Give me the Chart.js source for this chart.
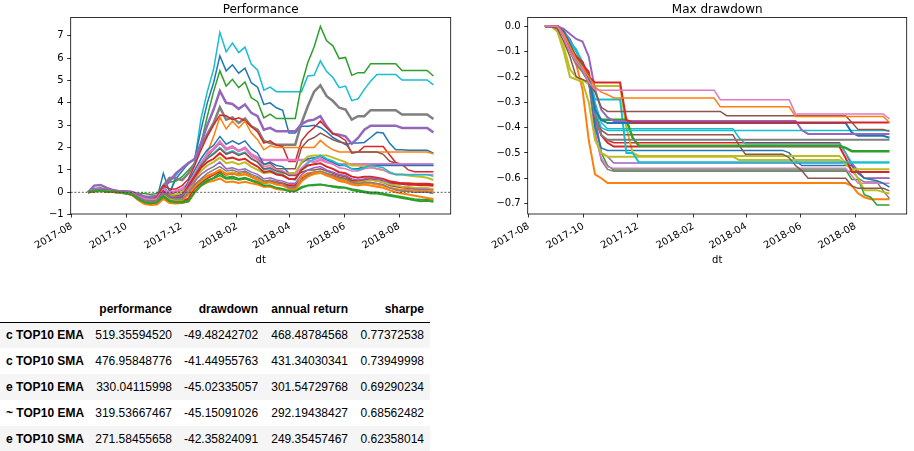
<!DOCTYPE html>
<html>
<head>
<meta charset="utf-8">
<script src="https://cdn.jsdelivr.net/npm/chart.js@4/dist/chart.umd.min.js"></script>
<style>
  body { margin: 0; background: #fff; width: 914px; height: 451px; overflow: hidden; position: relative; }
  .box { position: absolute; top: 0; width: 457px; height: 270px; }
  #perfBox { left: 0; }
  #ddBox { left: 457px; }
  #stats { position: absolute; left: 0; top: 296px; width: 430px; border-collapse: collapse; table-layout: fixed;
           font-family: "Liberation Sans", Arial, sans-serif; font-size: 12px; color: #000; }
  #stats th, #stats td { padding: 0 6px; height: 26px; text-align: right; white-space: nowrap; box-sizing: border-box; }
  #stats thead th { border-bottom: 1px solid #000; font-weight: bold; }
  #stats tbody th { text-align: left; font-weight: bold; }
  #stats tbody tr:nth-child(odd) { background: #f5f5f5; }
</style>
</head>
<body>
<div class="box" id="perfBox"><canvas id="perf" width="457" height="270"></canvas></div>
<div class="box" id="ddBox"><canvas id="dd" width="457" height="270"></canvas></div>
<table id="stats">
  <colgroup><col style="width:88px"><col style="width:90px"><col style="width:86px"><col style="width:90px"><col style="width:76px"></colgroup>
  <thead></thead>
  <tbody></tbody>
</table>
<script>
// weekly sample dates (dt)
const weeks = ['2017-08-19','2017-08-26','2017-09-02','2017-09-09','2017-09-16','2017-09-23','2017-09-30',
  '2017-10-07','2017-10-14','2017-10-21','2017-10-28','2017-11-04','2017-11-11','2017-11-18','2017-11-25',
  '2017-12-02','2017-12-09','2017-12-16','2017-12-23','2017-12-30','2018-01-06','2018-01-13','2018-01-20',
  '2018-01-27','2018-02-03','2018-02-10','2018-02-17','2018-02-24','2018-03-03','2018-03-10','2018-03-17',
  '2018-03-24','2018-03-31','2018-04-07','2018-04-14','2018-04-21','2018-04-28','2018-05-05','2018-05-12',
  '2018-05-19','2018-05-26','2018-06-02','2018-06-09','2018-06-16','2018-06-23','2018-06-30','2018-07-07',
  '2018-07-14','2018-07-21','2018-07-28','2018-08-04','2018-08-11','2018-08-18','2018-08-25','2018-09-01',
  '2018-09-08'];

const xTickLabels = ['2017-08', '2017-10', '2017-12', '2018-02', '2018-04', '2018-06', '2018-08'];
const perfYLabels = ['\u22121', '0', '1', '2', '3', '4', '5', '6', '7'];
const ddYLabels = ['\u22120.7', '\u22120.6', '\u22120.5', '\u22120.4', '\u22120.3', '\u22120.2', '\u22120.1', '0.0'];

// ---- performance series ----
const perfGreen2 = [
  0, .05, .08, .04, .02, 0, -.05, -.1,
  -.3, -.45, -.5, -.45, -.2, -.4, -.45, -.45,
  -.4, 0, .3, .5, .65, .85, .65, .7,
  .6, .65, .55, .45, .3, .3, .2, .15,
  .05, .05, .2, .3, .32, .35, .3, .25,
  .2, .2, .1, .05, 0, -.05, -.05, -.1,
  -.15, -.2, -.25, -.3, -.35, -.4, -.38, -.42];
const perfOrange2 = [
  0, .04, .06, .03, .01, -.02, -.05, -.12,
  -.35, -.52, -.57, -.55, -.3, -.48, -.5, -.48,
  -.42, .05, .3, .45, .52, .62, .45, .48,
  .42, .47, .4, .35, .25, .25, .15, .12,
  .1, .08, .5, .7, .85, .9, .75, .65,
  .5, .45, .35, .3, .35, .3, .25, .2,
  .1, 0, -.05, -.1, -.15, -.2, -.25, -.3];
const perfGreen3 = [
  0, .05, .07, .03, .01, -.01, -.04, -.1,
  -.3, -.45, -.5, -.45, -.15, -.38, -.42, -.42,
  -.35, .05, .35, .55, .62, .75, .6, .62,
  .55, .6, .5, .4, .25, .3, .2, .15,
  .1, .08, .25, .3, .35, .35, .3, .28,
  .25, .22, .15, .1, .05, 0, 0, -.05,
  -.1, -.15, -.2, -.25, -.3, -.32, -.32, -.35];
const perfGray2 = [
  0, .08, .1, .06, .03, 0, -.03, -.08,
  -.25, -.38, -.42, -.38, -.05, -.25, -.3, -.3,
  0, .35, .6, .85, 1.0, 1.15, .95, 1.0,
  .9, .95, .8, .7, .5, .55, .45, .4,
  .2, .2, .55, .8, .9, .95, .85, .75,
  .65, .6, .45, .4, .45, .45, .4, .35,
  .2, .1, .05, .05, 0, 0, 0, -.05];
const perfOrange3 = [
  0, .05, .07, .04, .01, -.01, -.04, -.1,
  -.3, -.45, -.5, -.45, -.2, -.4, -.4, -.35,
  -.1, .3, .55, .75, .85, 1.0, .8, .85,
  .75, .8, .7, .55, .4, .45, .35, .3,
  .2, .15, .7, .85, .9, .92, .8, .7,
  .55, .5, .4, .35, .4, .4, .35, .3,
  .2, .15, .1, .1, .08, .05, .05, .02];
const perfOlive2 = [
  0, .06, .08, .05, .02, 0, -.04, -.1,
  -.28, -.42, -.46, -.42, -.1, -.3, -.35, -.35,
  -.1, .25, .5, .7, .85, 1.0, .85, .9,
  .8, .85, .7, .6, .45, .45, .35, .3,
  .15, .15, .5, .7, .8, .85, .75, .7,
  .6, .55, .45, .45, .5, .55, .5, .45,
  .35, .3, .25, .25, .22, .2, .2, .15];
const perfPurple2 = [
  0, .12, .15, .08, .04, .02, 0, -.05,
  -.2, -.35, -.4, -.35, 0, -.2, -.2, -.15,
  .2, .5, .8, 1.0, 1.15, 1.35, 1.05, 1.1,
  1.0, 1.05, .9, .8, .6, .65, .55, .5,
  .4, .4, .8, 1.0, 1.1, 1.15, 1.0, .9,
  .8, .75, .6, .55, .6, .65, .6, .55,
  .4, .3, .25, .2, .15, .12, .12, .1];
const perfRed2 = [
  0, .06, .1, .05, .02, 0, -.03, -.1,
  -.3, -.45, -.5, -.45, -.15, -.35, -.4, -.4,
  -.3, .2, .45, .65, .8, .95, .8, .85,
  .8, .85, .7, .6, .45, .5, .45, .4,
  .3, .3, .6, .75, .85, .9, .8, .75,
  .65, .6, .5, .5, .55, .6, .6, .55,
  .45, .4, .38, .35, .35, .33, .33, .3];
const perfRed3 = [
  0, .08, .1, .06, .03, 0, -.03, -.08,
  -.25, -.38, -.42, -.38, .05, -.2, -.2, -.15,
  .3, .7, 1.1, 1.35, 1.5, 1.75, 1.5, 1.55,
  1.45, 1.5, 1.3, 1.15, .9, .95, .8, .75,
  .6, .6, 1.0, 1.2, 1.25, 1.3, 1.15, 1.05,
  .9, .85, .7, .65, .7, .7, .65, .6,
  .5, .45, .4, .4, .38, .38, .38, .35];
const perfBrown2 = [
  0, .07, .09, .05, .02, 0, -.03, -.08,
  -.25, -.38, -.42, -.38, 0, -.22, -.25, -.2,
  .25, .75, 1.2, 1.5, 1.7, 1.95, 1.7, 1.8,
  1.65, 1.75, 1.5, 1.35, 1.05, 1.1, .95, .9,
  .75, .75, .9, 1.0, 1.0, 1.05, .95, .85,
  .75, .7, .55, .5, .55, .55, .5, .45,
  .3, .25, .2, .18, .15, .15, .15, .12];
const perfCyan2 = [
  0, .1, .12, .06, .03, 0, -.03, -.08,
  -.25, -.4, -.45, -.4, -.05, -.3, -.3, -.25,
  .3, .7, 1.2, 1.55, 1.75, 2.0, 1.75, 1.85,
  1.7, 1.8, 1.5, 1.35, 1.0, 1.05, .85, .8,
  .6, .55, 1.0, 1.3, 1.5, 1.65, 1.5, 1.4,
  1.25, 1.2, 1.05, 1.0, 1.1, 1.2, 1.15, 1.1,
  .9, .8, .8, .78, .78, .78, .78, .72];
const perfPink2 = [
  0, .1, .12, .06, .03, 0, -.03, -.08,
  -.25, -.38, -.42, -.38, -.05, -.25, -.25, -.2,
  .4, .85, 1.3, 1.7, 1.9, 2.3, 1.9, 2.0,
  1.85, 1.95, 1.6, 1.45, 1.15, 1.2, 1.0, .95,
  .8, .8, 1.1, 1.35, 1.45, 1.55, 1.35, 1.25,
  1.1, 1.05, .95, .95, 1.05, 1.1, 1.05, 1.0,
  .85, .8, .8, .8, .8, .8, .8, .8];
const perfOlive = [
  0, .05, .08, .05, .02, 0, -.02, -.05,
  -.25, -.35, -.4, -.35, 0, -.15, -.1, 0,
  .3, .6, .95, 1.2, 1.35, 1.55, 1.3, 1.35,
  1.25, 1.35, 1.15, 1.0, .85, .9, .85, .85,
  .85, .85, 1.35, 1.6, 1.65, 1.65, 1.65, 1.55,
  1.45, 1.35, 1.2, 1.2, 1.15, 1.15, 1.05, 1.0,
  .9, .8, .8, .75, .72, .7, .65, .55];
const perfBlue2 = [
  0, .08, .1, .06, .03, 0, -.03, -.08,
  -.25, -.35, -.4, -.35, .05, -.2, -.15, -.1,
  .5, 1.0, 1.5, 1.9, 2.1, 2.5, 2.15, 2.3,
  2.15, 2.3, 1.95, 1.75, 1.25, 1.35, 1.2, 1.15,
  .85, .85, 1.3, 1.5, 1.55, 1.6, 1.45, 1.35,
  1.2, 1.2, 1.05, 1.05, 1.15, 1.2, 1.2, 1.2,
  1.2, 1.2, 1.2, 1.2, 1.2, 1.2, 1.2, 1.2];
const perfPink = [
  0, .1, .12, .05, .02, 0, -.02, -.05,
  -.2, -.3, -.35, -.3, .1, 0, .05, .15,
  .4, .8, 1.3, 1.7, 1.95, 2.25, 1.95, 2.05,
  1.85, 2.0, 1.7, 1.55, 1.45, 1.45, 1.45, 1.45,
  1.45, 1.45, 1.45, 1.45, 1.35, 1.45, 1.35, 1.3,
  1.25, 1.25, 1.25, 1.25, 1.25, 1.25, 1.25, 1.25,
  1.25, 1.25, 1.25, 1.25, 1.25, 1.25, 1.25, 1.25];
const perfBrown = [
  0, .08, .1, .05, .02, 0, -.02, -.05,
  -.2, -.3, -.35, -.3, 0, -.1, 0, .1,
  .35, .8, 1.2, 1.6, 1.9, 2.2, 1.9, 2.0,
  1.85, 1.95, 1.7, 1.5, 1.25, 1.3, 1.05, 1.05,
  1.05, 1.05, 2.0, 2.32, 2.45, 2.65, 2.5, 2.35,
  2.25, 2.2, 1.78, 1.8, 1.8, 1.8, 1.8, 1.7,
  1.4, 1.3, 1.25, 1.25, 1.25, 1.25, 1.25, 1.2];
const perfOrange = [
  0, .05, .08, .05, .02, 0, -.02, -.08,
  -.25, -.4, -.5, -.45, -.1, -.3, -.3, -.2,
  .1, .42, 1.15, 1.77, 2.5, 3.36, 2.83, 3.18,
  2.88, 3.18, 2.65, 2.35, 1.9, 2.08, 2.0, 2.0,
  2.0, 2.0, 2.0, 2.0, 2.0, 2.32, 2.08, 1.9,
  1.8, 1.8, 1.8, 1.8, 1.8, 1.8, 1.8, 1.8,
  1.8, 1.8, 1.8, 1.8, 1.8, 1.8, 1.8, 1.72];
const perfRed = [
  0, .1, .12, .08, .03, 0, -.02, -.05,
  -.15, -.3, -.35, -.2, .3, .15, .15, .3,
  .6, 1.2, 1.9, 2.5, 3.0, 3.45, 3.42, 3.25,
  3.33, 3.2, 2.95, 2.7, 2.2, 2.3, 2.1, 2.05,
  1.38, 1.38, 2.3, 2.65, 2.9, 3.18, 2.88, 2.62,
  2.5, 2.32, 1.75, 1.8, 2.05, 2.05, 2.05, 2.05,
  1.68, 1.33, 1.25, 1.0, .92, .92, .92, .92];
const perfPurple = [
  0, .3, .33, .2, .1, .05, .05, .02,
  -.1, -.2, -.2, -.15, .2, .5, .85, 1.08,
  1.3, 1.5, 2.2, 3.0, 3.7, 4.53, 4.0, 3.95,
  3.73, 3.93, 3.55, 3.4, 2.8, 2.88, 2.73, 2.73,
  2.73, 2.73, 3.05, 3.2, 3.25, 3.4, 2.95, 2.62,
  2.58, 2.5, 2.17, 2.43, 2.8, 2.98, 2.98, 2.98,
  2.98, 2.98, 2.88, 2.88, 2.88, 2.88, 2.88, 2.68];
const perfGray = [
  0, .15, .18, .1, .05, .05, .02, 0,
  -.1, -.2, -.25, -.2, .3, .65, .62, .55,
  .85, 1.3, 2.1, 2.6, 3.1, 3.8, 3.25, 3.35,
  3.1, 3.3, 2.95, 2.8, 2.3, 2.2, 2.13, 2.13,
  2.13, 2.13, 3.1, 3.85, 4.5, 4.78, 4.3, 4.08,
  3.78, 3.7, 3.25, 3.4, 3.4, 3.67, 3.67, 3.67,
  3.67, 3.67, 3.48, 3.48, 3.48, 3.48, 3.48, 3.28];
const perfGreen = [
  0, .08, .1, .08, .05, .05, .03, 0,
  -.05, -.05, -.1, -.05, .3, .45, .5, .7,
  1.0, 1.3, 2.2, 3.4, 4.5, 5.43, 4.75, 5.05,
  4.68, 4.93, 4.23, 4.05, 3.33, 3.5, 3.3, 3.3,
  3.3, 3.3, 4.8, 5.8, 6.5, 7.42, 6.77, 6.55,
  5.98, 6.03, 5.23, 5.35, 5.35, 5.75, 5.75, 5.75,
  5.75, 5.75, 5.45, 5.45, 5.45, 5.45, 5.45, 5.2];
const perfBlue = [
  0, .1, .12, .08, .05, .02, 0, -.05,
  -.15, -.25, -.3, -.25, .85, 0, .6, .95,
  1.3, 1.5, 2.8, 4.0, 4.9, 6.1, 5.43, 5.7,
  5.33, 5.55, 4.9, 4.7, 3.93, 4.0, 3.78, 3.67,
  2.65, 2.65, 2.95, 2.95, 3.0, 2.9, 2.7, 2.45,
  2.3, 2.13, 2.2, 2.2, 2.23, 2.45, 2.68, 2.65,
  2.2, 1.9, 1.9, 1.88, 1.88, 1.88, 1.88, 1.75];
const perfCyan = [
  0, .12, .15, .1, .05, .03, 0, -.05,
  -.2, -.3, -.35, -.3, .3, -.1, .75, 1.1,
  1.35, 1.45, 3.3, 4.5, 5.5, 7.15, 6.28, 6.67,
  6.25, 6.49, 5.73, 5.46, 4.57, 4.7, 4.5, 4.5,
  4.5, 4.5, 4.5, 5.2, 5.23, 5.87, 5.4, 5.13,
  4.68, 4.75, 4.1, 4.18, 4.6, 4.97, 5.27, 5.27,
  5.27, 5.27, 5.02, 5.02, 5.02, 5.02, 5.02, 4.8];

// ---- max drawdown series ----
const ddPink = [
  0, 0, 0, -.04, -.1, -.14, -.17, -.22,
  -.25, -.252, -.252, -.252, -.252, -.252, -.252, -.252,
  -.252, -.252, -.252, -.252, -.252, -.252, -.252, -.252,
  -.252, -.252, -.252, -.252, -.29, -.29, -.29, -.29,
  -.29, -.29, -.29, -.29, -.29, -.29, -.29, -.29,
  -.346, -.346, -.346, -.346, -.346, -.346, -.346, -.346,
  -.346, -.346, -.346, -.346, -.346, -.346, -.346, -.366];
const ddOrange = [
  0, 0, 0, -.03, -.08, -.13, -.16, -.2,
  -.24, -.26, -.27, -.283, -.283, -.283, -.283, -.283,
  -.283, -.283, -.283, -.283, -.283, -.283, -.283, -.283,
  -.283, -.283, -.283, -.283, -.318, -.318, -.318, -.318,
  -.318, -.318, -.318, -.318, -.318, -.318, -.318, -.318,
  -.356, -.356, -.356, -.356, -.356, -.356, -.356, -.356,
  -.356, -.356, -.356, -.356, -.356, -.356, -.356, -.38];
const ddBrown = [
  0, 0, -.01, -.06, -.12, -.2, -.21, -.22,
  -.26, -.32, -.336, -.336, -.336, -.336, -.336, -.336,
  -.336, -.336, -.336, -.336, -.336, -.336, -.336, -.336,
  -.336, -.336, -.336, -.336, -.336, -.353, -.353, -.353,
  -.353, -.353, -.353, -.353, -.353, -.353, -.353, -.353,
  -.353, -.353, -.353, -.353, -.353, -.353, -.353, -.353,
  -.353, -.38, -.408, -.408, -.408, -.408, -.408, -.415];
const ddRed = [
  0, 0, 0, -.03, -.08, -.12, -.14, -.2,
  -.222, -.222, -.222, -.222, -.222, -.37, -.38, -.38,
  -.38, -.38, -.38, -.38, -.38, -.38, -.38, -.38,
  -.38, -.38, -.38, -.38, -.38, -.38, -.38, -.38,
  -.38, -.38, -.38, -.38, -.38, -.38, -.38, -.38,
  -.38, -.38, -.38, -.38, -.38, -.38, -.38, -.38,
  -.38, -.38, -.38, -.38, -.38, -.38, -.38, -.38];
const ddPurple = [
  0, 0, 0, -.01, -.03, -.05, -.06, -.12,
  -.25, -.33, -.36, -.374, -.374, -.374, -.374, -.374,
  -.374, -.374, -.374, -.374, -.374, -.374, -.374, -.374,
  -.374, -.374, -.374, -.374, -.374, -.374, -.374, -.374,
  -.374, -.374, -.374, -.374, -.374, -.374, -.374, -.374,
  -.374, -.41, -.425, -.425, -.425, -.425, -.425, -.425,
  -.425, -.425, -.425, -.425, -.425, -.425, -.425, -.425];
const ddBlue = [
  0, 0, 0, -.02, -.07, -.13, -.16, -.2,
  -.33, -.37, -.382, -.382, -.382, -.382, -.382, -.382,
  -.382, -.382, -.382, -.382, -.382, -.382, -.382, -.382,
  -.382, -.382, -.382, -.382, -.382, -.382, -.382, -.382,
  -.382, -.382, -.382, -.382, -.382, -.382, -.382, -.382,
  -.382, -.382, -.382, -.382, -.382, -.382, -.382, -.382,
  -.382, -.42, -.432, -.432, -.432, -.432, -.432, -.44];
const ddCyan = [
  0, 0, 0, -.03, -.06, -.09, -.14, -.2,
  -.33, -.4, -.411, -.411, -.411, -.411, -.411, -.411,
  -.411, -.411, -.411, -.411, -.411, -.411, -.411, -.411,
  -.411, -.411, -.411, -.411, -.411, -.411, -.411, -.411,
  -.411, -.411, -.411, -.411, -.411, -.411, -.411, -.411,
  -.411, -.411, -.411, -.411, -.411, -.411, -.411, -.411,
  -.411, -.411, -.411, -.411, -.411, -.411, -.411, -.411];
const ddGray = [
  0, 0, 0, -.04, -.1, -.15, -.18, -.22,
  -.35, -.43, -.448, -.448, -.448, -.448, -.448, -.448,
  -.448, -.448, -.448, -.448, -.448, -.448, -.448, -.448,
  -.448, -.448, -.448, -.448, -.448, -.448, -.448, -.448,
  -.448, -.448, -.448, -.448, -.448, -.448, -.448, -.448,
  -.448, -.448, -.448, -.448, -.448, -.448, -.448, -.448,
  -.448, -.448, -.448, -.448, -.448, -.448, -.448, -.448];
const ddGreen = [
  0, 0, 0, -.03, -.09, -.12, -.15, -.2,
  -.34, -.369, -.369, -.369, -.369, -.369, -.44, -.472,
  -.472, -.472, -.472, -.472, -.472, -.472, -.472, -.472,
  -.472, -.472, -.472, -.472, -.472, -.472, -.472, -.472,
  -.472, -.472, -.472, -.472, -.472, -.472, -.472, -.472,
  -.472, -.472, -.472, -.472, -.472, -.472, -.472, -.472,
  -.48, -.493, -.493, -.493, -.493, -.493, -.493, -.493];
const ddCyan2 = [
  0, 0, 0, -.02, -.06, -.1, -.15, -.2,
  -.289, -.289, -.289, -.289, -.289, -.5, -.5, -.537,
  -.537, -.537, -.537, -.537, -.537, -.537, -.537, -.537,
  -.537, -.537, -.537, -.537, -.537, -.537, -.537, -.537,
  -.537, -.537, -.537, -.537, -.537, -.537, -.537, -.537,
  -.537, -.537, -.537, -.537, -.537, -.537, -.537, -.537,
  -.537, -.537, -.537, -.537, -.537, -.537, -.537, -.537];
const ddCyan3 = [
  0, 0, 0, -.03, -.08, -.14, -.17, -.2,
  -.3, -.38, -.405, -.405, -.405, -.405, -.405, -.405,
  -.405, -.405, -.405, -.405, -.405, -.405, -.405, -.405,
  -.405, -.405, -.405, -.405, -.405, -.405, -.405, -.44,
  -.464, -.464, -.464, -.464, -.464, -.464, -.464, -.464,
  -.464, -.464, -.464, -.464, -.464, -.464, -.464, -.464,
  -.5, -.539, -.539, -.539, -.539, -.539, -.539, -.539];
const ddRed2 = [
  0, 0, 0, -.02, -.07, -.14, -.15, -.18,
  -.32, -.43, -.46, -.475, -.475, -.475, -.475, -.475,
  -.475, -.475, -.475, -.475, -.475, -.475, -.475, -.475,
  -.475, -.475, -.475, -.475, -.475, -.475, -.475, -.475,
  -.475, -.475, -.475, -.475, -.475, -.475, -.475, -.475,
  -.475, -.475, -.475, -.475, -.475, -.475, -.475, -.475,
  -.52, -.575, -.575, -.575, -.575, -.575, -.575, -.575];
const ddBrown2 = [
  0, 0, 0, -.03, -.09, -.14, -.18, -.22,
  -.36, -.41, -.428, -.428, -.428, -.428, -.428, -.428,
  -.428, -.428, -.428, -.428, -.428, -.428, -.428, -.428,
  -.428, -.428, -.428, -.428, -.428, -.428, -.428, -.47,
  -.505, -.505, -.505, -.505, -.505, -.505, -.505, -.52,
  -.55, -.57, -.6, -.6, -.6, -.6, -.6, -.6,
  -.6, -.63, -.64, -.64, -.64, -.64, -.64, -.65];
const ddOlive = [
  0, 0, -.02, -.1, -.2, -.21, -.22, -.3,
  -.45, -.5, -.515, -.515, -.515, -.515, -.515, -.515,
  -.515, -.515, -.515, -.515, -.515, -.515, -.515, -.515,
  -.515, -.515, -.515, -.515, -.515, -.515, -.515, -.528,
  -.528, -.528, -.528, -.528, -.528, -.528, -.528, -.528,
  -.528, -.528, -.528, -.528, -.528, -.528, -.528, -.528,
  -.545, -.565, -.6, -.647, -.647, -.647, -.655, -.66];
const ddOlive2 = [
  0, 0, -.02, -.08, -.17, -.2, -.21, -.23,
  -.236, -.236, -.236, -.236, -.236, -.4, -.5, -.512,
  -.512, -.512, -.512, -.512, -.512, -.512, -.512, -.512,
  -.512, -.512, -.512, -.512, -.512, -.512, -.512, -.512,
  -.512, -.512, -.512, -.512, -.512, -.512, -.512, -.512,
  -.512, -.512, -.512, -.512, -.512, -.512, -.512, -.512,
  -.54, -.565, -.565, -.565, -.565, -.565, -.565, -.565];
const ddBlue2 = [
  0, 0, 0, -.02, -.07, -.12, -.16, -.21,
  -.4, -.48, -.49, -.49, -.49, -.49, -.49, -.49,
  -.49, -.49, -.49, -.49, -.49, -.49, -.49, -.49,
  -.49, -.49, -.49, -.49, -.49, -.49, -.49, -.49,
  -.49, -.49, -.49, -.49, -.49, -.49, -.49, -.5,
  -.53, -.55, -.55, -.55, -.55, -.55, -.55, -.55,
  -.55, -.55, -.58, -.6, -.605, -.61, -.62, -.635];
const ddPurple2 = [
  0, 0, 0, -.02, -.05, -.1, -.15, -.22,
  -.35, -.5, -.515, -.54, -.54, -.54, -.54, -.54,
  -.54, -.54, -.54, -.54, -.54, -.54, -.54, -.54,
  -.54, -.54, -.54, -.54, -.54, -.54, -.54, -.54,
  -.54, -.54, -.54, -.54, -.54, -.54, -.54, -.54,
  -.54, -.54, -.54, -.54, -.54, -.54, -.54, -.54,
  -.54, -.54, -.57, -.6, -.6, -.6, -.6, -.6];
const ddRed3 = [
  0, 0, 0, -.03, -.1, -.14, -.15, -.2,
  -.37, -.43, -.45, -.46, -.46, -.46, -.46, -.46,
  -.46, -.46, -.46, -.46, -.46, -.46, -.46, -.46,
  -.46, -.46, -.46, -.46, -.46, -.46, -.46, -.46,
  -.46, -.46, -.46, -.46, -.46, -.46, -.46, -.46,
  -.46, -.46, -.46, -.46, -.46, -.46, -.46, -.46,
  -.5, -.55, -.58, -.6, -.6, -.6, -.6, -.6];
const ddPink2 = [
  0, 0, 0, -.03, -.08, -.13, -.17, -.22,
  -.43, -.52, -.555, -.561, -.561, -.561, -.561, -.561,
  -.561, -.561, -.561, -.561, -.561, -.561, -.561, -.561,
  -.561, -.561, -.561, -.561, -.561, -.561, -.561, -.561,
  -.561, -.561, -.561, -.561, -.561, -.561, -.561, -.561,
  -.561, -.561, -.561, -.561, -.561, -.561, -.561, -.561,
  -.561, -.59, -.62, -.62, -.62, -.62, -.62, -.62];
const ddGray2 = [
  0, 0, 0, -.03, -.08, -.14, -.17, -.22,
  -.42, -.53, -.565, -.572, -.572, -.572, -.572, -.572,
  -.572, -.572, -.572, -.572, -.572, -.572, -.572, -.572,
  -.572, -.572, -.572, -.572, -.572, -.572, -.572, -.572,
  -.572, -.572, -.572, -.572, -.572, -.572, -.572, -.572,
  -.572, -.572, -.572, -.572, -.572, -.572, -.572, -.572,
  -.572, -.572, -.6, -.615, -.615, -.615, -.65, -.68];
const ddGreen2 = [
  0, 0, 0, -.03, -.09, -.14, -.17, -.22,
  -.38, -.5, -.55, -.567, -.567, -.567, -.567, -.567,
  -.567, -.567, -.567, -.567, -.567, -.567, -.567, -.567,
  -.567, -.567, -.567, -.567, -.567, -.567, -.567, -.567,
  -.567, -.567, -.567, -.567, -.567, -.567, -.567, -.567,
  -.567, -.567, -.567, -.567, -.567, -.567, -.567, -.567,
  -.567, -.605, -.605, -.665, -.675, -.706, -.706, -.706];
const ddOrange2 = [
  0, 0, 0, -.04, -.1, -.15, -.25, -.45,
  -.585, -.6, -.619, -.619, -.619, -.619, -.619, -.619,
  -.619, -.619, -.619, -.619, -.619, -.619, -.619, -.619,
  -.619, -.619, -.619, -.619, -.619, -.619, -.619, -.619,
  -.619, -.619, -.619, -.619, -.619, -.619, -.619, -.619,
  -.619, -.619, -.619, -.619, -.619, -.619, -.619, -.619,
  -.619, -.63, -.66, -.675, -.683, -.683, -.683, -.683];

// ---- summary table ----
const strategies = ['c TOP10 EMA', 'c TOP10 SMA', 'e TOP10 EMA', '~ TOP10 EMA', 'e TOP10 SMA'];
const statNames = ['performance', 'drawdown', 'annual return', 'sharpe'];
const performance = [519.35594520, 476.95848776, 330.04115998, 319.53667467, 271.58455658];
const drawdown = [-49.48242702, -41.44955763, -45.02335057, -45.15091026, -42.35824091];
const annualReturn = [468.48784568, 431.34030341, 301.54729768, 292.19438427, 249.35457467];
const sharpe = [0.77372538, 0.73949998, 0.69290234, 0.68562482, 0.62358014];

const C = {
  blue: '#1f77b4', orange: '#ff7f0e', green: '#2ca02c', red: '#d62728', purple: '#9467bd',
  brown: '#8c564b', pink: '#e377c2', gray: '#7f7f7f', olive: '#bcbd22', cyan: '#17becf'
};

const perfSeries = [
  [perfGreen2, C.green, 2], [perfOrange2, C.orange, 2], [perfGreen3, C.green, 1.5], [perfGray2, C.gray, 1.5],
  [perfOrange3, C.orange, 2], [perfOlive2, C.olive, 1.5], [perfPurple2, C.purple, 1.5], [perfRed2, C.red, 2.5],
  [perfRed3, C.red, 2], [perfBrown2, C.brown, 1.5], [perfCyan2, C.cyan, 1.5], [perfPink2, C.pink, 1.5],
  [perfOlive, C.olive, 2], [perfBlue2, C.blue, 1.5], [perfPink, C.pink, 2.5], [perfBrown, C.brown, 1.5],
  [perfOrange, C.orange, 1.5], [perfRed, C.red, 1.5], [perfPurple, C.purple, 2.5], [perfGray, C.gray, 2.5],
  [perfGreen, C.green, 1.5], [perfBlue, C.blue, 1.5], [perfCyan, C.cyan, 1.5]
];
const ddSeries = [
  [ddPink, C.pink, 1.5], [ddOrange, C.orange, 1.5], [ddBrown, C.brown, 1.5], [ddRed, C.red, 2],
  [ddPurple, C.purple, 2], [ddBlue, C.blue, 2], [ddCyan, C.cyan, 1.5], [ddGray, C.gray, 2],
  [ddGreen, C.green, 2.5], [ddCyan2, C.cyan, 2], [ddCyan3, C.cyan, 1.5], [ddRed2, C.red, 2],
  [ddBrown2, C.brown, 1.5], [ddOlive, C.olive, 2], [ddOlive2, C.olive, 2], [ddBlue2, C.blue, 1.5],
  [ddPurple2, C.purple, 1.5], [ddRed3, C.red, 1.5], [ddPink2, C.pink, 1.5], [ddGray2, C.gray, 1.5],
  [ddGreen2, C.green, 1.5], [ddOrange2, C.orange, 2]
];

Chart.defaults.font.family = 'DejaVu Sans';
Chart.defaults.font.size = 10;
Chart.defaults.color = '#000';

const toTime = d => Date.parse(d + 'T00:00:00Z');
const xs = weeks.map(toTime);
const toNum = s => parseFloat(s.replace('\u2212', '-'));

// zero line + full frame around the axes
const axesFrame = {
  id: 'axesFrame',
  afterDatasetsDraw(chart, args, opts) {
    const { ctx, chartArea: a, scales } = chart;
    ctx.save();
    if (opts.zero) {
      const y = scales.y.getPixelForValue(0);
      ctx.setLineDash([2, 1.7]);
      ctx.strokeStyle = '#333';
      ctx.lineWidth = 0.8;
      ctx.beginPath();
      ctx.moveTo(a.left, y);
      ctx.lineTo(a.right, y);
      ctx.stroke();
    }
    ctx.setLineDash([]);
    ctx.strokeStyle = '#000';
    ctx.lineWidth = 0.8;
    ctx.strokeRect(a.left, a.top, a.right - a.left, a.bottom - a.top);
    ctx.restore();
  }
};

function makeChart(id, title, series, yLabels, rightPad, zero) {
  const all = series.flatMap(s => s[0]);
  const lo = Math.min(...all), hi = Math.max(...all);
  const ySpan = hi - lo;
  const xSpan = xs[xs.length - 1] - xs[0];
  const tickFont = { family: 'DejaVu Sans', size: 10 };
  const grid = { drawOnChartArea: false, drawTicks: true, tickLength: 3.5, color: '#000', lineWidth: 0.8 };

  return new Chart(document.getElementById(id), {
    type: 'line',
    data: {
      datasets: series.map(([vals, color, w]) => ({
        data: vals.map((v, i) => ({ x: xs[i], y: v })),
        borderColor: color,
        borderWidth: w,
        pointRadius: 0,
        tension: 0,
        fill: false
      }))
    },
    options: {
      responsive: false,
      animation: false,
      devicePixelRatio: 1,
      events: [],
      layout: { padding: { left: 0, right: rightPad, top: 0, bottom: 0 } },
      plugins: {
        legend: { display: false },
        tooltip: { enabled: false },
        title: {
          display: true, text: title, color: '#000', fullSize: false,
          font: { family: 'DejaVu Sans', size: 12, weight: 'normal' },
          padding: { top: 3, bottom: 0 }
        },
        axesFrame: { zero }
      },
      scales: {
        x: {
          type: 'linear',
          min: xs[0] - 0.05 * xSpan,
          max: xs[xs.length - 1] + 0.05 * xSpan,
          afterBuildTicks: s => { s.ticks = xTickLabels.map(l => ({ value: toTime(l + '-01') })); },
          afterFit: s => { s.height = 56; s.paddingLeft = 0; s.paddingRight = 0; },
          ticks: {
            autoSkip: false, minRotation: 30, maxRotation: 30, padding: 3, color: '#000', font: tickFont,
            callback: (v, i) => xTickLabels[i]
          },
          grid: grid,
          border: { display: false },
          title: { display: true, text: 'dt', color: '#000', font: tickFont, padding: { top: 0, bottom: 3.5 } }
        },
        y: {
          min: lo - 0.05 * ySpan,
          max: hi + 0.05 * ySpan,
          afterBuildTicks: s => { s.ticks = yLabels.map(l => ({ value: toNum(l) })); },
          afterFit: s => { s.width = 70.7; s.paddingTop = 0; s.paddingBottom = 0; },
          ticks: { padding: 3.5, color: '#000', font: tickFont, callback: (v, i) => yLabels[i] },
          grid: grid,
          border: { display: false }
        }
      }
    },
    plugins: [axesFrame]
  });
}

makeChart('perf', 'Performance', perfSeries, perfYLabels, 6.3, true);
makeChart('dd', 'Max drawdown', ddSeries, ddYLabels, 7.3, false);

// table
const head = document.querySelector('#stats thead');
const hr = document.createElement('tr');
['', ...statNames].forEach(n => { const th = document.createElement('th'); th.textContent = n; hr.appendChild(th); });
head.appendChild(hr);
const body = document.querySelector('#stats tbody');
strategies.forEach((name, i) => {
  const tr = document.createElement('tr');
  const th = document.createElement('th');
  th.textContent = name;
  tr.appendChild(th);
  [performance[i], drawdown[i], annualReturn[i], sharpe[i]].forEach(v => {
    const td = document.createElement('td');
    td.textContent = v.toFixed(8);
    tr.appendChild(td);
  });
  body.appendChild(tr);
});
</script>
</body>
</html>
